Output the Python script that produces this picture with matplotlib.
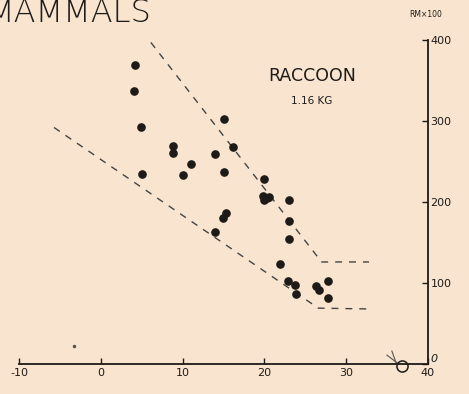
import matplotlib.pyplot as plt

# raccoon data points (temperature vs RM x 100)
temp = [4.2, 4.0, 4.9, 5.0, 8.85, 8.85, 11.0, 10.0, 13.9, 15.0, 16.1, 15.1,
        15.3, 14.9, 13.95, 19.9, 19.8, 20.3, 20.6, 20.0, 23.0, 23.0, 23.0,
        21.9, 22.85, 23.8, 23.9, 26.3, 26.7, 27.8, 27.8]
rm = [369, 337, 292, 235, 269, 260, 247, 233, 259, 302, 268, 237,
      186, 180, 163, 228, 208, 205, 206, 202, 202, 176, 154,
      123, 102, 97, 86, 96, 92, 102, 81]

# dashed boundary lines
upper_x = [6.1, 27.0, 32.8]
upper_y = [397, 126, 126]
lower_x = [-5.75, 26.6, 32.8]
lower_y = [292, 69, 68]

xticks = [-10, 0, 10, 20, 30, 40]
yticks = [0, 100, 200, 300, 400]

bg = '#f9e5cf'
ink = '#1e1a18'

fig = plt.figure(figsize=(4.69, 3.94), dpi=100, facecolor=bg)
ax = fig.add_axes([0, 0, 1, 1], facecolor=bg)
ax.set_xlim(-12.36, 45.04)
ax.set_ylim(-37, 449.4)

ax.plot(upper_x, upper_y, ls=(0, (5, 5)), color='#444', lw=1)
ax.plot(lower_x, lower_y, ls=(0, (5, 5)), color='#444', lw=1)
ax.scatter(temp, rm, s=27, color=ink, zorder=3)

# stray mark and the little circle symbol at the axis corner
ax.plot([-3.3], [22], 'o', ms=1.5, color='#555')
ax.plot([36.9], [-3], 'o', ms=8, mfc='none', mec=ink, mew=1.1)
ax.plot([36.3, 35.0], [1, 11], color='#555', lw=0.8)
ax.plot([36.1, 35.6], [2, 16], color='#555', lw=0.8)

# axes drawn as spines positioned in data space
for s in ['top', 'left']:
    ax.spines[s].set_visible(False)
ax.spines['bottom'].set_position(('data', 0))
ax.spines['bottom'].set_bounds(-10, 40)
ax.spines['right'].set_position(('data', 40))
ax.spines['right'].set_bounds(0, 400)
for s in ['bottom', 'right']:
    ax.spines[s].set_color(ink)
    ax.spines[s].set_linewidth(1.3)

ax.set_xticks(xticks)
ax.set_xticklabels([str(t) for t in xticks])
ax.set_yticks(yticks)
ax.set_yticklabels(['0', '100', '200', '300', '400'])
ax.yaxis.tick_right()
ax.tick_params(axis='x', direction='in', length=4, width=1, color=ink,
               labelsize=8, labelcolor=ink, pad=3)
ax.tick_params(axis='y', direction='in', length=4, width=1, color=ink,
               labelsize=8, labelcolor=ink, pad=2)
# the zero label sits just above the x axis
ax.get_yticklabels()[0].set_va('bottom')
ax.get_yticklabels()[0].set_fontstyle('italic')

ax.text(-14.0, 452, 'MAMMALS', fontsize=23, color=ink, va='top', ha='left',
        fontweight='light')
ax.text(25.8, 356, 'RACCOON', fontsize=12.5, color=ink, ha='center', va='center')
ax.text(25.8, 325, '1.16 KG', fontsize=7.5, color=ink, ha='center', va='center')
ax.text(39.8, 431, 'RM\u00d7100', fontsize=5.5, color=ink, ha='center', va='center')

fig.savefig('out.png', dpi=100, facecolor=bg)
